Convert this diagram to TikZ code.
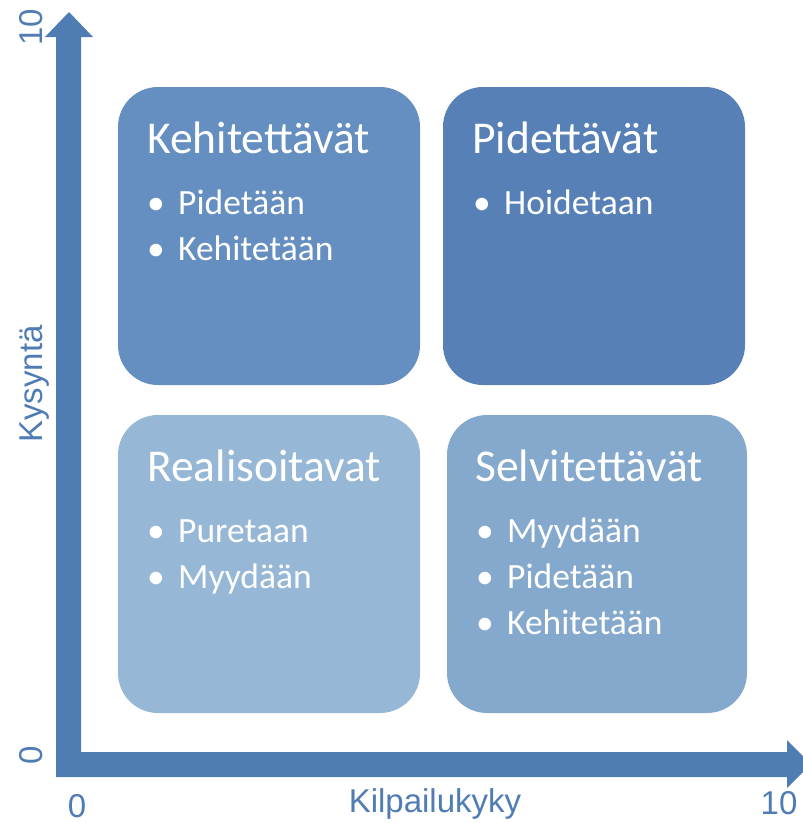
\documentclass[tikz,border=0pt]{standalone}
\usepackage{fontspec}
\setmainfont{Carlito}
\newfontfamily\axisfont{Liberation Sans}
\usetikzlibrary{positioning}

\definecolor{axisblue}{RGB}{80,124,180}
\definecolor{kehitblue}{RGB}{101,143,192}
\definecolor{pidetblue}{RGB}{87,129,182}
\definecolor{realblue}{RGB}{150,183,213}
\definecolor{selvblue}{RGB}{133,168,205}

\newcommand{\bitem}[1]{\makebox[31pt][l]{\textbullet}#1}

\begin{document}
\begin{tikzpicture}[x=1pt,y=-1pt,
    quad/.style={rounded corners=40pt},
    qtitle/.style={anchor=base west,inner sep=0pt,text=white,font=\fontsize{45.5}{45.5}\selectfont},
    qitem/.style={anchor=base west,inner sep=0pt,text=white,font=\fontsize{35.5}{35.5}\selectfont},
    axislabel/.style={inner sep=0pt,text=axisblue,font=\axisfont\fontsize{33}{33}\selectfont}]
    \useasboundingbox (0,0) rectangle (803,823);

    % quadrants
    \fill[quad,kehitblue] (118,87) rectangle (420,385);
    \fill[quad,pidetblue] (443,87) rectangle (745,385);
    \fill[quad,realblue] (118,415) rectangle (420,713);
    \fill[quad,selvblue] (447,415) rectangle (747,713);

    \node[qtitle] (kehit) at (147,153) {Kehitettävät};
    \node[qitem] (kehit1) at (147,214) {\bitem{Pidetään}};
    \node[qitem] (kehit2) at (147,260) {\bitem{Kehitetään}};

    \node[qtitle] (pidet) at (472,153) {Pidettävät};
    \node[qitem] (pidet1) at (473,214) {\bitem{Hoidetaan}};

    \node[qtitle] (real) at (147,481) {Realisoitavat};
    \node[qitem] (real1) at (147,542) {\bitem{Puretaan}};
    \node[qitem] (real2) at (147,588) {\bitem{Myydään}};

    \node[qtitle] (selv) at (475,481) {Selvitettävät};
    \node[qitem] (selv1) at (476,542) {\bitem{Myydään}};
    \node[qitem] (selv2) at (476,588) {\bitem{Pidetään}};
    \node[qitem] (selv3) at (476,634) {\bitem{Kehitetään}};

    % axes
    \fill[axisblue] (56,777) -- (56,37) -- (45,37) -- (69,12) -- (93,37) -- (81,37)
        -- (81,752) -- (787,752) -- (787,740) -- (811,764) -- (787,788) -- (787,777) -- cycle;

    \node[axislabel,rotate=90,anchor=base] (ymax) at (42,27) {10};
    \node[axislabel,rotate=90,anchor=base] (ylabel) at (42,384) {Kysyntä};
    \node[axislabel,rotate=90,anchor=base] (ymin) at (42,755) {0};
    \node[axislabel,anchor=base] (xmin) at (77,817) {0};
    \node[axislabel,anchor=base] (xlabel) at (435,812) {Kilpailukyky};
    \node[axislabel,anchor=base] (xmax) at (779,814) {10};
\end{tikzpicture}
\end{document}
